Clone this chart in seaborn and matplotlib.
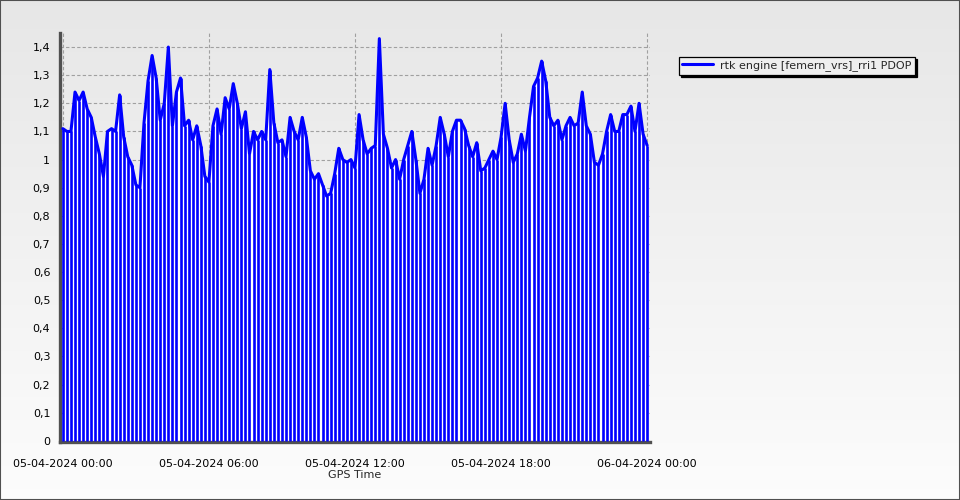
import numpy as np
import pandas as pd
import matplotlib
matplotlib.use("Agg")
import matplotlib.pyplot as plt
import matplotlib.dates as mdates
from matplotlib.patches import Rectangle
from matplotlib.ticker import MultipleLocator, FixedLocator, FixedFormatter
import seaborn as sns

# ---------------- data ----------------
series_name = "rtk engine [femern_vrs]_rri1 PDOP"
start_time = "2024-04-05 00:00"
sample_step = "10min"
pdop = [
    1.11, 1.10, 1.10, 1.24, 1.21, 1.24, 1.18, 1.15, 1.08, 1.02,
    0.94, 1.10, 1.11, 1.10, 1.23, 1.08, 1.01, 0.98, 0.91, 0.90,
    1.13, 1.28, 1.37, 1.29, 1.14, 1.20, 1.40, 1.12, 1.24, 1.29,
    1.12, 1.14, 1.07, 1.12, 1.05, 0.94, 0.92, 1.12, 1.18, 1.09,
    1.22, 1.18, 1.27, 1.20, 1.11, 1.17, 1.02, 1.10, 1.07, 1.10,
    1.07, 1.32, 1.13, 1.06, 1.07, 1.01, 1.15, 1.10, 1.07, 1.15,
    1.08, 0.96, 0.93, 0.95, 0.91, 0.87, 0.88, 0.95, 1.04, 1.00,
    0.99, 1.00, 0.97, 1.16, 1.07, 1.02, 1.04, 1.05, 1.43, 1.09,
    1.04, 0.97, 1.00, 0.93, 1.00, 1.05, 1.10, 1.00, 0.88, 0.93,
    1.04, 0.98, 1.05, 1.15, 1.09, 1.01, 1.10, 1.14, 1.14, 1.11,
    1.05, 1.01, 1.06, 0.96, 0.97, 1.00, 1.03, 1.00, 1.08, 1.20,
    1.07, 0.99, 1.02, 1.09, 1.03, 1.15, 1.26, 1.29, 1.35, 1.28,
    1.15, 1.12, 1.14, 1.07, 1.12, 1.15, 1.12, 1.13, 1.24, 1.12,
    1.09, 0.99, 0.98, 1.02, 1.10, 1.16, 1.10, 1.10, 1.16, 1.16,
    1.19, 1.10, 1.20, 1.09, 1.05,
]
y_ticks = [0.0, 0.1, 0.2, 0.3, 0.4, 0.5, 0.6, 0.7, 0.8, 0.9, 1.0, 1.1, 1.2, 1.3, 1.4]
y_tick_labels = ["0", "0,1", "0,2", "0,3", "0,4", "0,5", "0,6", "0,7", "0,8",
                 "0,9", "1", "1,1", "1,2", "1,3", "1,4"]
x_tick_times = ["2024-04-05 00:00", "2024-04-05 06:00", "2024-04-05 12:00",
                "2024-04-05 18:00", "2024-04-06 00:00"]
x_label = "GPS Time"

times = pd.date_range(start_time, periods=len(pdop), freq=sample_step)
df = pd.DataFrame({"time": times, "pdop": pdop})

# ---------------- style ----------------
sns.set_style("white")
plt.rcParams["font.family"] = ["DejaVu Sans"]
plt.rcParams["font.size"] = 8

W, H = 960, 500
fig = plt.figure(figsize=(W / 100, H / 100), dpi=100)

# gradient background
bg = fig.add_axes([0, 0, 1, 1], zorder=-10)
grad = np.linspace(0.905, 0.99, 256).reshape(-1, 1)
bg.imshow(np.dstack([grad, grad, grad]), aspect="auto", extent=[0, 1, 0, 1],
          origin="upper")
bg.set_axis_off()
fig.patches.append(Rectangle((0, 0), 1, 1, transform=fig.transFigure,
                             fill=False, edgecolor="#505050", linewidth=1.5))

ax = fig.add_axes([60 / W, 1 - 442 / H, (650 - 60) / W, (442 - 33) / H])
ax.set_facecolor("none")

blue = "#0000ff"
# white area under the curve, blue stripes, and the envelope line
ax.fill_between(df["time"], 0, df["pdop"], color="white", zorder=2, linewidth=0)
ax.vlines(df["time"], 0, df["pdop"], color=blue, linewidth=1.9, zorder=3)
sns.lineplot(data=df, x="time", y="pdop", ax=ax, color=blue, linewidth=2.2,
             zorder=4, label=series_name, legend=False)

# limits
t0 = pd.Timestamp(x_tick_times[0])
t1 = pd.Timestamp(x_tick_times[-1])
pad = pd.Timedelta(minutes=7)
ax.set_xlim(t0 - pad, t1 + pad)
ax.set_ylim(-0.004, 1.45)

# ticks
major = [mdates.date2num(pd.Timestamp(t)) for t in x_tick_times]
ax.xaxis.set_major_locator(FixedLocator(major))
ax.xaxis.set_major_formatter(mdates.DateFormatter("%d-%m-%Y %H:%M"))
minor = [mdates.date2num(t) for t in pd.date_range(t0, t1, freq="90min")]
ax.xaxis.set_minor_locator(FixedLocator(minor))
ax.yaxis.set_major_locator(FixedLocator(y_ticks))
ax.yaxis.set_major_formatter(FixedFormatter(y_tick_labels))
ax.yaxis.set_minor_locator(MultipleLocator(0.02))

ax.tick_params(axis="both", which="major", length=4, width=1, color="#808080",
               labelsize=8, labelcolor="#000000", direction="out")
ax.tick_params(axis="both", which="minor", length=3, width=0.8, color="#909090",
               direction="out")
ax.tick_params(axis="y", pad=3)
ax.tick_params(axis="x", pad=8)

ax.set_xlabel(x_label, fontsize=8, labelpad=1)
ax.set_ylabel("")

# grid
ax.grid(True, which="major", axis="both", linestyle=(0, (3, 2)),
        color="#a0a0a0", linewidth=0.8, zorder=1)
ax.set_axisbelow(True)

# spines
for s in ["top", "right"]:
    ax.spines[s].set_visible(False)
for s in ["left", "bottom"]:
    ax.spines[s].set_color("#505050")
    ax.spines[s].set_linewidth(2.4)

# legend
leg = ax.legend(loc="upper left", bbox_to_anchor=(679 / W, 1 - 57 / H),
                bbox_transform=fig.transFigure, frameon=True, fancybox=False,
                shadow={"color": "black", "alpha": 1.0, "ox": 1.5, "oy": -1.5},
                edgecolor="black", facecolor="#efefef", framealpha=1,
                borderpad=0.3, handlelength=2.8, handletextpad=0.6,
                borderaxespad=0, fontsize=8)
leg.get_frame().set_linewidth(0.9)

fig.savefig("out.png", dpi=100)
